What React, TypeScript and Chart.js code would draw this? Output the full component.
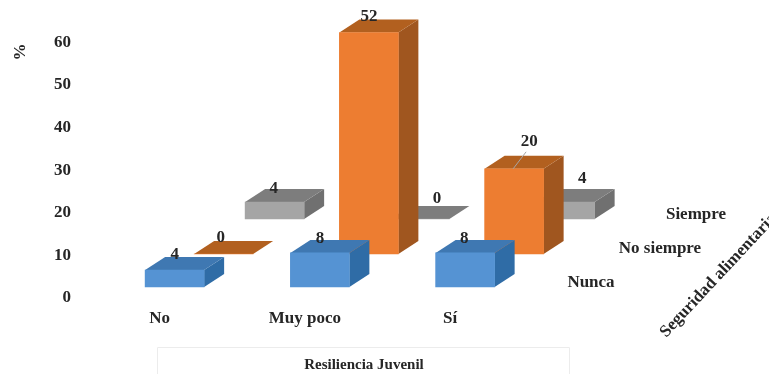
import React, { useEffect, useRef } from "react";
import { Chart, registerables } from "chart.js";

Chart.register(...registerables);

// Survey shares, in percent, one array per food-security level.
const categories = ["No", "Muy poco", "Sí"];
const seriesNames = ["Nunca", "No siempre", "Siempre"];
const nunca = [4, 8, 8];
const noSiempre = [0, 52, 20];
const siempre = [4, 0, 4];
const yTicks = [0, 10, 20, 30, 40, 50, 60];

const FONT = "'Liberation Serif', serif";
const PLOT_TOP = 31.4;
const BASELINE = 287;

// Receding position of each series row, and the extrusion of every box.
const rowShift = [
  { dx: 0, dy: 0 },
  { dx: 49, dy: -33 },
  { dx: 100, dy: -68 },
];
const DEPTH_X = 20;
const DEPTH_Y = -13;

const faces = [
  { front: "#5593d3", top: "#3f78b2", side: "#2f6ca6" },
  { front: "#ed7d31", top: "#b2601f", side: "#a0561f" },
  { front: "#a5a5a5", top: "#7d7d7d", side: "#707070" },
];

// Nudge of each value label from the middle of its box front, by row and category.
const labelNudge = [
  [[0, -15], [0, -14], [-1, -14]],
  [[-3, -16], [0, -16], [15, -27]],
  [[-1, -13], [17, -20], [17, -23]],
];

const poly = (ctx: CanvasRenderingContext2D, pts: number[][], fill: string) => {
  ctx.beginPath();
  pts.forEach(([x, y], i) => (i ? ctx.lineTo(x, y) : ctx.moveTo(x, y)));
  ctx.closePath();
  ctx.fillStyle = fill;
  ctx.fill();
};

const boxes3d = {
  id: "boxes3d",
  beforeDatasetDraw(chart: any, args: any) {
    const { ctx } = chart;
    const shift = rowShift[args.index];
    const colors = faces[args.index];
    ctx.save();
    ctx.translate(shift.dx, shift.dy);
    args.meta.data.forEach((bar: any) => {
      const l = bar.x - bar.width / 2;
      const r = bar.x + bar.width / 2;
      const t = bar.y;
      const b = bar.base;
      if (b - t > 0.5) {
        poly(ctx, [[r, t], [r + DEPTH_X, t + DEPTH_Y], [r + DEPTH_X, b + DEPTH_Y], [r, b]], colors.side);
      }
      poly(ctx, [[l, t], [l + DEPTH_X, t + DEPTH_Y], [r + DEPTH_X, t + DEPTH_Y], [r, t]], colors.top);
    });
  },
  afterDatasetDraw(chart: any) {
    chart.ctx.restore();
  },
  afterDatasetsDraw(chart: any) {
    const { ctx } = chart;
    ctx.save();
    ctx.textAlign = "center";
    ctx.textBaseline = "middle";
    ctx.font = `bold 17px ${FONT}`;
    ctx.fillStyle = "#262626";
    chart.data.datasets.forEach((ds: any, s: number) => {
      chart.getDatasetMeta(s).data.forEach((bar: any, i: number) => {
        const [nx, ny] = labelNudge[s][i];
        const x = bar.x + rowShift[s].dx;
        const y = bar.y + rowShift[s].dy;
        if (nx === 15 && ny === -27) {
          ctx.beginPath();
          ctx.moveTo(x + 12, y - 17);
          ctx.lineTo(x - 1, y);
          ctx.strokeStyle = "#a6a6a6";
          ctx.lineWidth = 1;
          ctx.stroke();
        }
        ctx.fillText(String(ds.data[i]), x + nx, y + ny);
      });
    });

    // Depth axis: one name per series, then its title on the diagonal.
    const rowLabelAt = [[591, 283], [660, 249], [696, 215]];
    seriesNames.forEach((name, s) => ctx.fillText(name, rowLabelAt[s][0], rowLabelAt[s][1]));

    ctx.save();
    ctx.translate(663, 335);
    ctx.rotate((-47 * Math.PI) / 180);
    ctx.textAlign = "left";
    ctx.fillText("Seguridad alimentaria", 0, 0);
    ctx.restore();

    ctx.save();
    ctx.translate(21, 52);
    ctx.rotate(-Math.PI / 2);
    ctx.fillText("%", 0, 0);
    ctx.restore();

    // Title of the category axis inside its faint frame.
    ctx.strokeStyle = "#ececec";
    ctx.lineWidth = 1;
    ctx.beginPath();
    ctx.moveTo(157.5, 374);
    ctx.lineTo(157.5, 347.5);
    ctx.lineTo(569.5, 347.5);
    ctx.lineTo(569.5, 374);
    ctx.stroke();
    ctx.font = `bold 15px ${FONT}`;
    ctx.fillText("Resiliencia Juvenil", 364, 365);
    ctx.restore();
  },
};

export default function App() {
  const ref = useRef<HTMLCanvasElement>(null);

  useEffect(() => {
    const chart = new Chart(ref.current!, {
      type: "bar",
      plugins: [boxes3d],
      data: {
        labels: categories,
        datasets: [nunca, noSiempre, siempre].map((values, s) => ({
          label: seriesNames[s],
          data: values,
          backgroundColor: faces[s].front,
          barThickness: 59,
          grouped: false,
          clip: false,
        })),
      } as any,
      options: {
        animation: false,
        responsive: false,
        layout: { padding: { top: PLOT_TOP, right: 231.25, left: 0, bottom: 0 } },
        plugins: { legend: { display: false }, tooltip: { enabled: false } },
        scales: {
          x: {
            grid: { display: false },
            border: { display: false },
            afterFit: (scale: any) => {
              scale.height = 374 - BASELINE;
              scale.paddingLeft = 0;
              scale.paddingRight = 0;
            },
            ticks: {
              autoSkip: false,
              maxRotation: 0,
              labelOffset: -15,
              padding: 13,
              color: "#262626",
              font: { family: FONT, size: 17, weight: "bold" },
            },
          },
          y: {
            min: 0,
            max: 60,
            grid: { display: false },
            border: { display: false },
            afterFit: (scale: any) => {
              scale.width = 102;
              scale.paddingTop = 0;
              scale.paddingBottom = 0;
            },
            afterBuildTicks: (scale: any) => {
              scale.ticks = yTicks.map((value) => ({ value }));
            },
            ticks: {
              labelOffset: 11,
              padding: 23,
              color: "#262626",
              font: { family: FONT, size: 17, weight: "bold" },
            },
          },
        },
      } as any,
    });
    return () => chart.destroy();
  }, []);

  return (
    <div style={{ position: "fixed", left: 0, top: 0, width: 769, height: 374, background: "#fff", overflow: "hidden" }}>
      <canvas ref={ref} width={769} height={374} style={{ display: "block" }} />
    </div>
  );
}
